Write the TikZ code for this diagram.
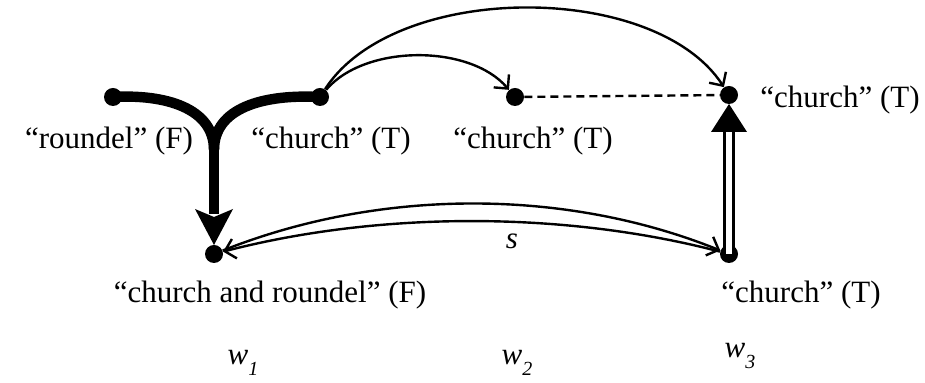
\documentclass[tikz,border=0pt]{standalone}
\usepackage{fontspec}
\setmainfont{Liberation Serif}
\usetikzlibrary{arrows.meta}
\begin{document}
\begin{tikzpicture}[x=0.5pt,y=-0.5pt,
  dot/.style={circle,fill=black,inner sep=0pt,minimum size=9pt},
  lbl/.style={font=\fontsize{15.5}{18}\selectfont,inner sep=0pt},
  thinarr/.style={line width=1.2pt,-{Straight Barb[length=5pt,width=10pt,line width=1.2pt]}},
  thickline/.style={line width=5.2pt},
  dbl/.style={double,line width=1.4pt,double distance=3pt}]
\useasboundingbox (0,0) rectangle (925,383);
% dots
\node[dot] (r)  at (113,97) {};
\node[dot] (c1) at (320,97) {};
\node[dot] (c2) at (515,97) {};
\node[dot] (t3) at (729,95) {};
\node[dot] (b1) at (214,254) {};
\node[dot] (b3) at (729,254) {};
% labels
\node[lbl] (lr)  at (109,141) {“roundel” (F)};
\node[lbl] (lc1) at (331,141) {“church” (T)};
\node[lbl] (lc2) at (533,141) {“church” (T)};
\node[lbl] (lt3) at (840,100) {“church” (T)};
\node[lbl] (lb1) at (270,295) {“church and roundel” (F)};
\node[lbl] (lb3) at (801,295) {“church” (T)};
\node[lbl,anchor=base] (w1) at (243,365) {\textit{w}\raisebox{-0.35em}{\fontsize{10}{12}\selectfont\textit{1}}};
\node[lbl,anchor=base] (w2) at (517,365) {\textit{w}\raisebox{-0.35em}{\fontsize{10}{12}\selectfont\textit{2}}};
\node[lbl,anchor=base] (w3) at (740,358) {\textit{w}\raisebox{-0.35em}{\fontsize{10}{12}\selectfont\textit{3}}};
% thick Y
\coordinate (j) at (214,150);
\coordinate (ja) at (214,214);
\draw[thickline] (r.center) .. controls (165,94) and (214,108) .. (j);
\draw[thickline] (c1.center) .. controls (263,94) and (214,108) .. (j);
\draw[thickline] (j) -- (ja);
\fill (195,209) -- (214,217) -- (233,209) -- (214,245) -- cycle;
% curved thin arrows
\draw[thinarr] (c1) .. controls (365,44) and (470,44) .. (c2);
\draw[thinarr] (c1) .. controls (395,-19) and (655,-19) .. (t3);
\draw[line width=1.2pt,dash pattern=on 4pt off 2.5pt] (c2) -- (t3);
% vertical double arrow
\coordinate (va) at (729,130);
\draw[dbl] (b3.center) -- (va);
\fill (711,132) -- (747,132) -- (729,104) -- cycle;
% bottom arrows
\draw[thinarr] (b1) .. controls (380,188) and (565,188) .. (b3);
\draw[thinarr] (b3) .. controls (565,211) and (380,211) .. (b1);
\node[lbl,font=\fontsize{15.5}{18}\selectfont\itshape] (s) at (512,241) {s};
\end{tikzpicture}
\end{document}
